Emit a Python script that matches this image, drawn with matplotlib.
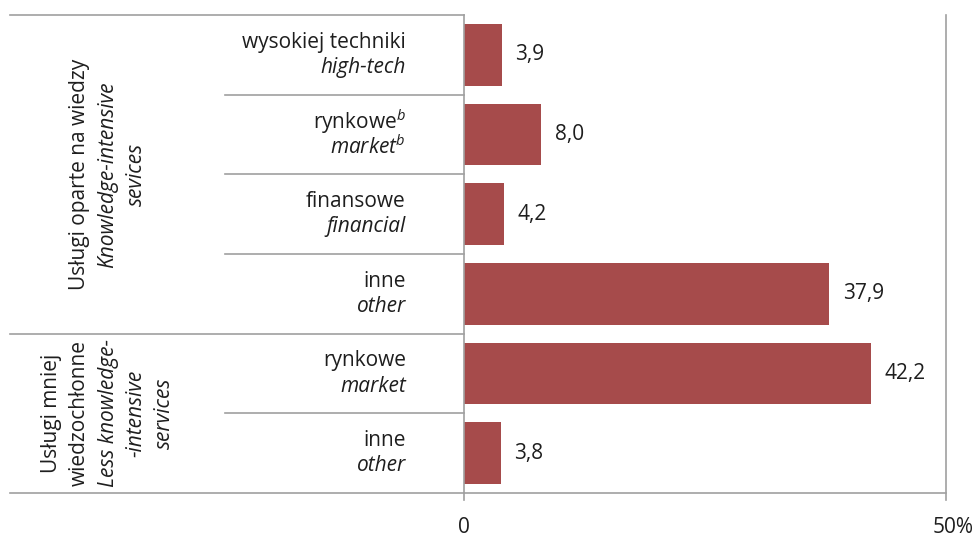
import matplotlib
matplotlib.use("Agg")
import matplotlib.pyplot as plt
from matplotlib.transforms import blended_transform_factory

plt.rcParams['font.family'] = ['Open Sans', 'DejaVu Sans']
plt.rcParams['mathtext.fontset'] = 'custom'
plt.rcParams['mathtext.rm'] = 'Open Sans'
plt.rcParams['mathtext.it'] = 'Open Sans:italic'

# Data
labels_pl = ["wysokiej techniki", "rynkowe$^{b}$", "finansowe", "inne", "rynkowe", "inne"]
labels_en = ["high-tech", "market$^{b}$", "financial", "other", "market", "other"]
values = [3.9, 8.0, 4.2, 37.9, 42.2, 3.8]
groups = [
    (["Usługi oparte na wiedzy", "Knowledge-intensive", "sevices"],
     [False, True, True], 0, 3),
    (["Usługi mniej", "wiedzochłonne", "Less knowledge-", "-intensive", "services"],
     [False, False, True, True, True], 4, 5),
]
xticks = [0, 50]
xtick_labels = ["0", "50%"]

BAR = "#A64B4B"
LINE = "#A0A0A0"
TXT = "#1E1E1E"
FS = 15

W, H = 976, 537
fig = plt.figure(figsize=(W / 100, H / 100), dpi=100)
ax = fig.add_axes([464 / W, 1 - 493 / H, (946 - 464) / W, (493 - 15) / H])

y = list(range(len(values)))
ax.barh(y, values, height=0.77, color=BAR, zorder=2)
ax.set_xlim(0, 50)
ax.set_ylim(len(values) - 0.5, -0.5)

for s in ("top", "right", "left", "bottom"):
    ax.spines[s].set_visible(False)
ax.set_yticks([])
ax.set_xticks([])

# value labels
for yi, v in zip(y, values):
    ax.text(v + 1.4, yi, f"{v:.1f}".replace(".", ","), va="center", ha="left",
            fontsize=FS, color=TXT)

# axis lines with short tick marks below
ax.plot([0, 0], [-0.5, 5.59], color=LINE, lw=1.2, clip_on=False, zorder=3)
ax.plot([50, 50], [-0.5, 5.59], color=LINE, lw=1.2, clip_on=False, zorder=1)
ax.plot([0, 50], [5.5, 5.5], color=LINE, lw=1.2, clip_on=False, zorder=3)

# tick labels; the percent label is nudged right so it ends at the figure edge
tick_offsets = [0, 0.78]
for xt, lab, dx in zip(xticks, xtick_labels, tick_offsets):
    ax.text(xt + dx, 5.93, lab, ha="center", va="center",
            fontsize=FS, color=TXT, clip_on=False)

trans = blended_transform_factory(ax.transAxes, ax.transData)
x_outer = (10 - 464) / 482
x_inner = (225 - 464) / 482
x_lab = (406 - 464) / 482

# category separators
group_edges = {-0.5}
for _, _, g0, g1 in groups:
    group_edges.add(g0 - 0.5)
    group_edges.add(g1 + 0.5)
for k in range(len(values) + 1):
    yy = k - 0.5
    x0 = x_outer if yy in group_edges else x_inner
    ax.plot([x0, 0], [yy, yy], color=LINE, lw=1.2, transform=trans, clip_on=False)

# category labels
for yi, pl, en in zip(y, labels_pl, labels_en):
    ax.text(x_lab, yi - 0.16, pl, ha="right", va="center", fontsize=FS,
            color=TXT, transform=trans)
    ax.text(x_lab, yi + 0.16, en, ha="right", va="center", fontsize=FS,
            color=TXT, style="italic", transform=trans)

# group labels (rotated)
spacing = 28.4 / 482
cx = (108 - 464) / 482
for lines, italics, g0, g1 in groups:
    yc = (g0 + g1) / 2
    n = len(lines)
    for i, (ln, it) in enumerate(zip(lines, italics)):
        xx = cx + (i - (n - 1) / 2) * spacing
        ax.text(xx, yc, ln, rotation=90, ha="center", va="center",
                fontsize=FS, color=TXT, style="italic" if it else "normal",
                transform=trans, rotation_mode="anchor")

fig.savefig("out.png", dpi=100)
